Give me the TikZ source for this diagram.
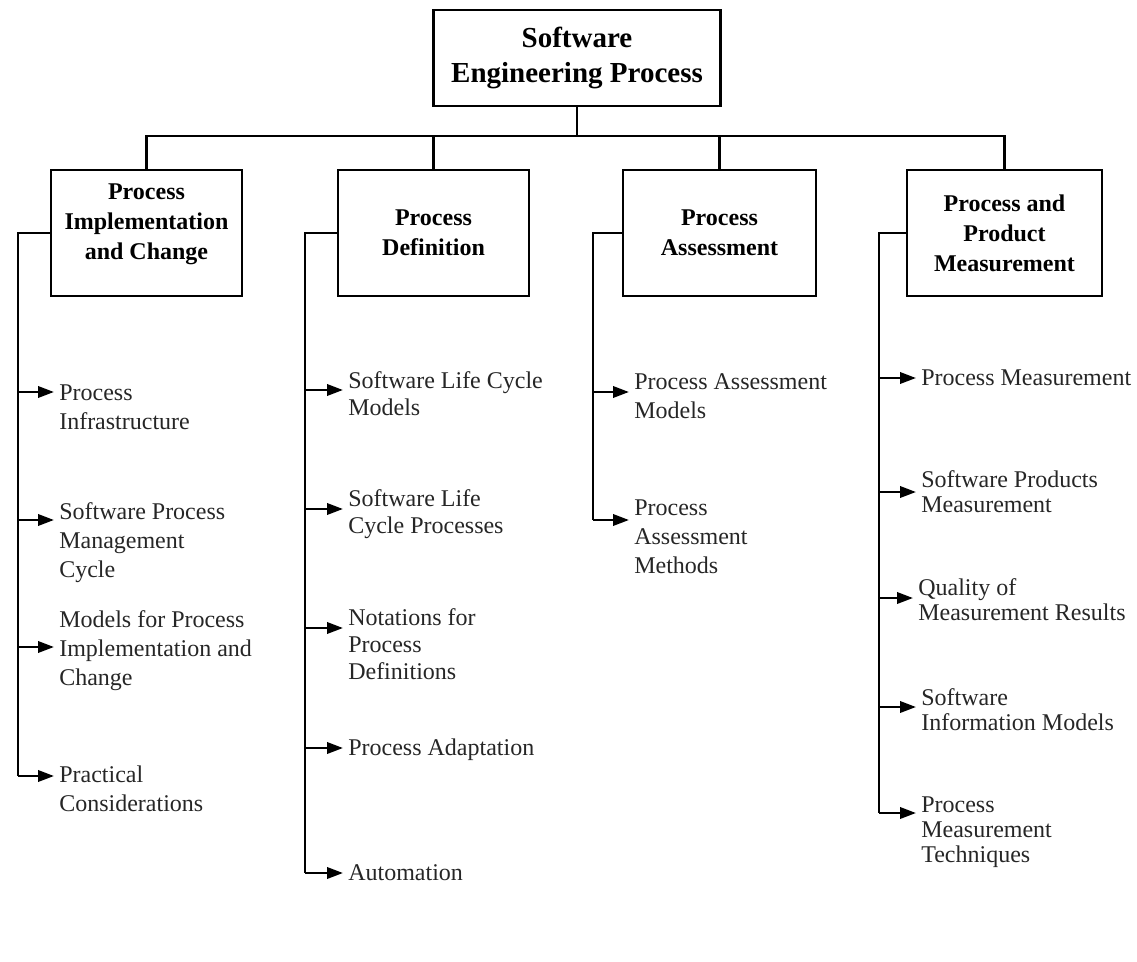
\documentclass[tikz,border=0pt]{standalone}
\usepackage{fontspec}
\setmainfont{Liberation Serif}
\usetikzlibrary{arrows.meta}
\begin{document}
\begin{tikzpicture}[x=0.75pt,y=-0.75pt,
  line width=1.9pt,
  box/.style={draw, line width=2pt, align=center, inner sep=0pt,
    minimum height=94.5pt, font=\bfseries\fontsize{18}{22.5}\selectfont},
  % leaves are placed by the baseline of their last line
  leaf/.style={align=left, anchor=base west, inner sep=0pt, text=black!85,
    font=\fontsize{18}{#1}\selectfont},
  arr/.style={-{Triangle[length=12pt,width=8.5pt]}, shorten >=3pt},
]
\useasboundingbox (0,0) rectangle (1137,962);

% root and the four sub-areas
\node[box, minimum width=215.25pt, minimum height=72pt,
  font=\bfseries\fontsize{21.75}{26.25}\selectfont] (top) at (577,58)
  {Software\\Engineering Process};
\node[box, minimum width=143.25pt] (b1) at (146.5,233) {Process\\Implementation\\and Change\\[-6pt]};
\node[box, minimum width=143.25pt] (b2) at (433.5,233) {Process\\Definition};
\node[box, minimum width=144.75pt] (b3) at (719.5,233) {Process\\Assessment};
\node[box, minimum width=146.25pt] (b4) at (1004.5,233) {Process and\\Product\\Measurement};

% tree bus
\coordinate (bus) at (577,136);
\draw (top.south) -- (bus);
\draw (b1.north) -- (b1.north |- bus) -- (b4.north |- bus) -- (b4.north);
\draw (b2.north) -- (b2.north |- bus);
\draw (b3.north) -- (b3.north |- bus);

% column 1 topics
\node[leaf=21.75] (l11) at (58,429) {Process\\Infrastructure};
\node[leaf=21.75] (l12) at (58,577) {Software Process\\Management\\Cycle};
\node[leaf=21.75] (l13) at (58,685) {Models for Process\\Implementation and\\Change};
\node[leaf=21.75] (l14) at (58,811) {Practical\\Considerations};
\coordinate (j11) at (18,392);
\coordinate (j12) at (18,520);
\coordinate (j13) at (18,647);
\coordinate (j14) at (18,776);
\draw (b1.west) -| (j14);
\foreach \k in {1,...,4} \draw[arr] (j1\k) -- (j1\k -| l1\k.west);

% column 2 topics
\node[leaf=20.25] (l21) at (347,415) {Software Life Cycle\\Models};
\node[leaf=20.25] (l22) at (347,533) {Software Life\\Cycle Processes};
\node[leaf=20.25] (l23) at (347,679) {Notations for\\Process\\Definitions};
\node[leaf=20.25] (l24) at (347,755) {Process Adaptation};
\node[leaf=20.25] (l25) at (347,880) {Automation};
\coordinate (j21) at (305,390);
\coordinate (j22) at (305,509);
\coordinate (j23) at (305,628);
\coordinate (j24) at (305,748);
\coordinate (j25) at (305,873);
\draw (b2.west) -| (j25);
\foreach \k in {1,...,5} \draw[arr] (j2\k) -- (j2\k -| l2\k.west);

% column 3 topics
\node[leaf=21.75] (l31) at (633,418) {Process Assessment\\Models};
\node[leaf=21.75] (l32) at (633,573) {Process\\Assessment\\Methods};
\coordinate (j31) at (593,392);
\coordinate (j32) at (593,520);
\draw (b3.west) -| (j32);
\foreach \k in {1,2} \draw[arr] (j3\k) -- (j3\k -| l3\k.west);

% column 4 topics
\node[leaf=18.75] (l41) at (920,385) {Process Measurement};
\node[leaf=18.75] (l42) at (920,512) {Software Products\\Measurement};
\node[leaf=18.75] (l43) at (917,620) {Quality of\\Measurement Results};
\node[leaf=18.75] (l44) at (920,730) {Software\\Information Models};
\node[leaf=18.75] (l45) at (920,862) {Process\\Measurement\\Techniques};
\coordinate (j41) at (879,378);
\coordinate (j42) at (879,492);
\coordinate (j43) at (879,598);
\coordinate (j44) at (879,707);
\coordinate (j45) at (879,813);
\draw (b4.west) -| (j45);
\foreach \k in {1,...,5} \draw[arr] (j4\k) -- (j4\k -| l4\k.west);
\end{tikzpicture}
\end{document}
